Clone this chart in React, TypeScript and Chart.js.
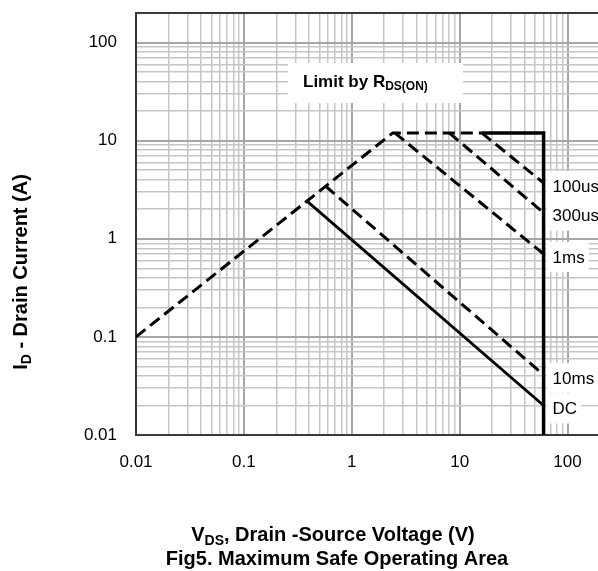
import React, { useEffect, useRef } from "react";
import { Chart, registerables } from "chart.js";

Chart.register(...registerables);

// ---- data ----
const rdsLimitV = [0.01, 2.4, 16];
const rdsLimitI = [0.1, 12, 12];
const us100V = [16, 60];
const us100I = [12, 3.7];
const us300V = [8, 60];
const us300I = [12, 1.84];
const ms1V = [2.5, 60];
const ms1I = [12, 0.7];
const ms10V = [0.57, 60];
const ms10I = [3.45, 0.041];
const dcV = [0.38, 60];
const dcI = [2.45, 0.02];
const boundaryV = [16, 60, 60];
const boundaryI = [12, 12, 0.01];
const pulseLabels = ["100us", "300us", "1ms", "10ms", "DC"];
const xTickLabels = ["0.01", "0.1", "1", "10", "100"];
const yTickLabels = ["0.01", "0.1", "1", "10", "100"];
const xMin = 0.01;
const xMax = 200;
const yMin = 0.01;
const yMax = 200;

const FONT = "'Liberation Sans', Arial, sans-serif";

function gridValues(min: number, max: number): number[] {
  const out: number[] = [];
  for (let e = Math.round(Math.log10(min)); e <= Math.round(Math.log10(max)); e++) {
    for (let m = 1; m <= 9; m++) {
      const v = parseFloat((m * Math.pow(10, e)).toPrecision(3));
      if (v >= min - 1e-12 && v <= max + 1e-9) out.push(v);
    }
  }
  return out;
}

function isMajor(v: number): boolean {
  const l = Math.log10(v);
  return Math.abs(l - Math.round(l)) < 1e-6;
}

function labelFor(v: number, labels: string[]): string {
  for (const s of labels) {
    if (Math.abs(parseFloat(s) - v) / v < 1e-6) return s;
  }
  return "";
}

function pts(xs: number[], ys: number[]) {
  return xs.map((x, i) => ({ x, y: ys[i] }));
}

type Part = [string, boolean];

function drawParts(ctx: CanvasRenderingContext2D, parts: Part[], cx: number, cy: number, size: number, bold: boolean) {
  const w = bold ? "bold " : "";
  const subSize = Math.round(size * 0.68);
  let total = 0;
  for (const [t, sub] of parts) {
    ctx.font = `${w}${sub ? subSize : size}px ${FONT}`;
    total += ctx.measureText(t).width;
  }
  let x = cx - total / 2;
  ctx.textBaseline = "middle";
  ctx.textAlign = "left";
  for (const [t, sub] of parts) {
    ctx.font = `${w}${sub ? subSize : size}px ${FONT}`;
    ctx.fillText(t, x, sub ? cy + size * 0.3 : cy);
    x += ctx.measureText(t).width;
  }
}

const decorPlugin = {
  id: "decor",
  beforeDatasetsDraw(chart: any) {
    const { ctx, chartArea } = chart;
    ctx.save();
    // plot frame
    ctx.strokeStyle = "#3a3a3a";
    ctx.lineWidth = 2;
    ctx.strokeRect(chartArea.left, chartArea.top, chartArea.right - chartArea.left, chartArea.bottom - chartArea.top);
    // "Limit by RDS(ON)" box
    const bx = chartArea.left + 152;
    const by = chartArea.top + 50;
    ctx.fillStyle = "#ffffff";
    ctx.fillRect(bx, by, 175, 40);
    ctx.fillStyle = "#000";
    ctx.textAlign = "left";
    ctx.textBaseline = "middle";
    ctx.font = `bold 17px ${FONT}`;
    const t1 = "Limit by R";
    ctx.fillText(t1, bx + 15, by + 19);
    const x = bx + 15 + ctx.measureText(t1).width;
    ctx.font = `bold 12px ${FONT}`;
    ctx.fillText("DS(ON)", x, by + 24);
    ctx.restore();
  },
  afterDatasetsDraw(chart: any) {
    const { ctx } = chart;
    ctx.save();
    const labelled = [1, 2, 3, 4, 5];
    labelled.forEach((di, k) => {
      const meta = chart.getDatasetMeta(di);
      const p = meta.data[meta.data.length - 1];
      if (!p) return;
      ctx.font = `17px ${FONT}`;
      const text = pulseLabels[k];
      const tw = ctx.measureText(text).width;
      const cy = p.y + 3;
      ctx.fillStyle = "#ffffff";
      ctx.fillRect(p.x + 3, cy - 15, tw + 10, 30);
      ctx.fillStyle = "#000";
      ctx.textAlign = "left";
      ctx.textBaseline = "middle";
      ctx.fillText(text, p.x + 9, cy + 1);
    });
    ctx.restore();
  },
  afterDraw(chart: any) {
    const { ctx } = chart;
    ctx.save();
    ctx.fillStyle = "#000";
    // y axis title
    ctx.save();
    ctx.translate(21, 272);
    ctx.rotate(-Math.PI / 2);
    drawParts(ctx, [["I", false], ["D", true], [" - Drain Current (A)", false]], 0, 0, 20, true);
    ctx.restore();
    drawParts(ctx, [["V", false], ["DS", true], [", Drain -Source Voltage (V)", false]], 333, 535, 20, true);
    drawParts(ctx, [["Fig5. Maximum Safe Operating Area", false]], 337, 559, 20, true);
    ctx.restore();
  },
};

export default function App() {
  const ref = useRef<HTMLCanvasElement | null>(null);
  useEffect(() => {
    if (!ref.current) return;
    const xGrid = gridValues(xMin, xMax);
    const yGrid = gridValues(yMin, yMax);
    const dashed = { borderColor: "#000", borderWidth: 3, borderDash: [12, 6], pointRadius: 0, fill: false, tension: 0 };
    const chart = new Chart(ref.current, {
      type: "line",
      data: {
        datasets: [
          { label: "Rds", data: pts(rdsLimitV, rdsLimitI), ...dashed },
          { label: "100us", data: pts(us100V, us100I), ...dashed },
          { label: "300us", data: pts(us300V, us300I), ...dashed },
          { label: "1ms", data: pts(ms1V, ms1I), ...dashed },
          { label: "10ms", data: pts(ms10V, ms10I), ...dashed },
          { label: "DC", data: pts(dcV, dcI), borderColor: "#000", borderWidth: 2.8, pointRadius: 0, fill: false, tension: 0 },
          { label: "bound", data: pts(boundaryV, boundaryI), borderColor: "#000", borderWidth: 3.5, pointRadius: 0, fill: false, tension: 0, clip: false } as any,
        ],
      },
      options: {
        animation: false,
        responsive: false,
        devicePixelRatio: 1,
        layout: { padding: { left: 0, top: 13, right: 40, bottom: 0 } },
        plugins: { legend: { display: false }, tooltip: { enabled: false } },
        scales: {
          x: {
            type: "logarithmic",
            min: xMin,
            max: xMax,
            afterBuildTicks: (s: any) => {
              s.ticks = xGrid.map((v) => ({ value: v }));
            },
            afterFit: (s: any) => {
              s.height = 136;
              s.paddingLeft = 0;
              s.paddingRight = 0;
            },
            border: { display: false },
            grid: {
              drawTicks: false,
              color: (c: any) => (isMajor(c.tick?.value) ? "#a6a6a6" : "#c6c6c6"),
              lineWidth: (c: any) => (isMajor(c.tick?.value) ? 2 : 1.5),
            },
            ticks: {
              autoSkip: false,
              maxRotation: 0,
              minRotation: 0,
              padding: 17,
              color: "#000",
              font: { family: FONT, size: 17 },
              callback: (v: any) => labelFor(Number(v), xTickLabels),
            },
          },
          y: {
            type: "logarithmic",
            min: yMin,
            max: yMax,
            afterBuildTicks: (s: any) => {
              s.ticks = yGrid.map((v) => ({ value: v }));
            },
            afterFit: (s: any) => {
              s.width = 136;
              s.paddingTop = 0;
              s.paddingBottom = 0;
            },
            border: { display: false },
            grid: {
              drawTicks: false,
              color: (c: any) => (isMajor(c.tick?.value) ? "#a6a6a6" : "#c6c6c6"),
              lineWidth: (c: any) => (isMajor(c.tick?.value) ? 2 : 1.5),
            },
            ticks: {
              autoSkip: false,
              padding: 19,
              color: "#000",
              font: { family: FONT, size: 17 },
              callback: (v: any) => labelFor(Number(v), yTickLabels),
            },
          },
        },
      },
      plugins: [decorPlugin],
    } as any);
    return () => chart.destroy();
  }, []);
  return (
    <div style={{ position: "absolute", left: 0, top: 0, width: 598, height: 571, overflow: "hidden", background: "#fff" }}>
      <canvas ref={ref} width={640} height={571} style={{ display: "block", width: 640, height: 571 }} />
    </div>
  );
}
